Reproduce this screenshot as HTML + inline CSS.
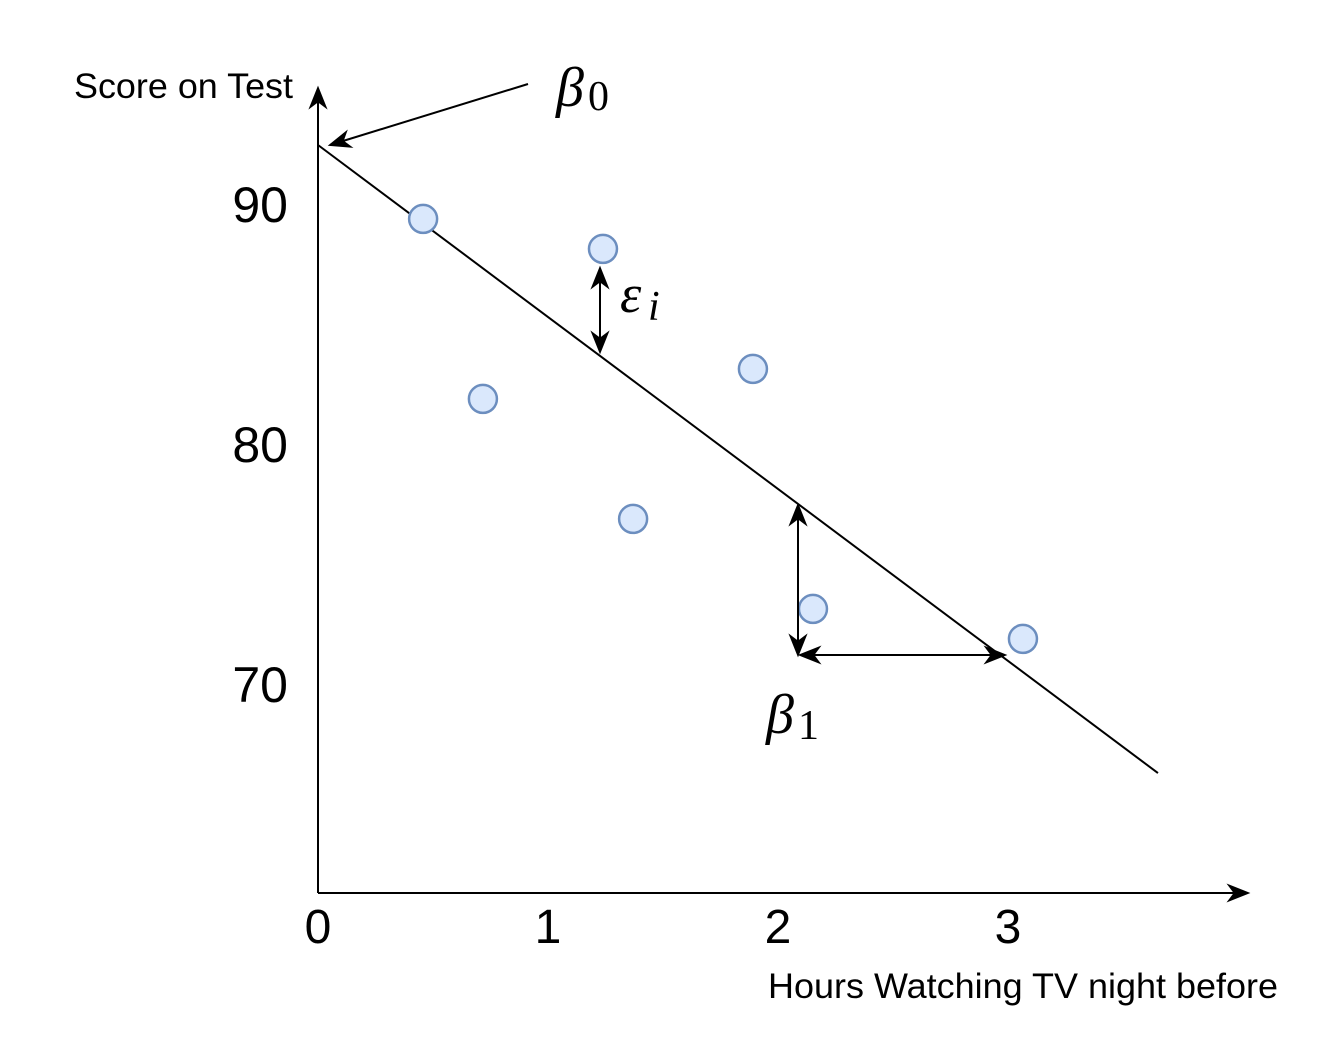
<!DOCTYPE html>
<html><head><meta charset="utf-8"><style>
html,body{margin:0;padding:0;background:#fff;}
svg{display:block;}
.t{font-family:"Liberation Sans",Arial,sans-serif;fill:#000;}
.g{font-family:"Liberation Serif","DejaVu Serif",serif;font-style:italic;fill:#000;}
.s{font-family:"Liberation Serif","DejaVu Serif",serif;fill:#000;}
</style></head><body>
<svg id="chart" width="1338" height="1046" viewBox="0 0 1338 1046">
<defs>
<marker id="ab" viewBox="0 0 10 10" refX="9" refY="5" markerWidth="24" markerHeight="24" markerUnits="userSpaceOnUse" orient="auto-start-reverse">
<path d="M0,1 L10,5 L0,9 L3,5 z" fill="#000"/></marker>
</defs>
<g id="axes"></g>
<g id="marks"></g>
<g id="ann"></g>
</svg>
<script>
const xTicks=[0,1,2,3];
const yTicks=[70,80,90];
const hours=[0.457,0.717,1.239,1.370,1.891,2.152,3.065];
const scores=[89.42,81.92,88.17,76.92,83.17,73.17,71.92];
const lineX=[0,3.652];
const lineY=[92.5,66.33];
const NS='http://www.w3.org/2000/svg';
const X0=318, XS=230, Y90=205, YS=24;
function xs(v){return X0+v*XS;}
function ys(v){return Y90+(90-v)*YS;}
function mk(tag,attrs,parent,text){const e=document.createElementNS(NS,tag);for(const k in attrs)e.setAttribute(k,attrs[k]);if(text!==undefined)e.textContent=text;document.getElementById(parent).appendChild(e);return e;}
let e;
e=mk('line',{x1:X0,y1:893,x2:X0,y2:88,stroke:'#000','stroke-width':2,'marker-end':'url(#ab)'},'axes');


e=mk('line',{x1:X0,y1:893,x2:1248,y2:893,stroke:'#000','stroke-width':2,'marker-end':'url(#ab)'},'axes');


xTicks.forEach(t=>{e=mk('text',{x:xs(t),y:943,'text-anchor':'middle','font-size':48,class:'t'},'axes',String(t));

});
yTicks.forEach(t=>{e=mk('text',{x:288,y:ys(t)+17,'text-anchor':'end','font-size':50,class:'t'},'axes',String(t));

});
e=mk('text',{x:74,y:98,'font-size':35,class:'t',textLength:219,lengthAdjust:'spacingAndGlyphs'},'axes','Score on Test');


e=mk('text',{x:768,y:998,'font-size':35,class:'t',textLength:510,lengthAdjust:'spacingAndGlyphs'},'axes','Hours Watching TV night before');


e=mk('line',{x1:xs(lineX[0]),y1:ys(lineY[0]),x2:xs(lineX[1]),y2:ys(lineY[1]),stroke:'#000','stroke-width':2},'marks');


hours.forEach((h,i)=>{e=mk('circle',{cx:xs(h),cy:ys(scores[i]),r:14,fill:'#dae8fc',stroke:'#6c8ebf','stroke-width':2.5},'marks');

});
e=mk('line',{x1:528,y1:84,x2:330,y2:145,stroke:'#000','stroke-width':2,'marker-end':'url(#ab)'},'ann');


e=mk('line',{x1:600,y1:268,x2:600,y2:352,stroke:'#000','stroke-width':2,'marker-start':'url(#ab)','marker-end':'url(#ab)'},'ann');


e=mk('line',{x1:798,y1:505,x2:798,y2:655,stroke:'#000','stroke-width':2,'marker-start':'url(#ab)','marker-end':'url(#ab)'},'ann');


e=mk('line',{x1:800,y1:655,x2:1005,y2:655,stroke:'#000','stroke-width':2,'marker-start':'url(#ab)','marker-end':'url(#ab)'},'ann');


e=mk('text',{x:556,y:106,'font-size':56,class:'g'},'ann','β');


mk('text',{x:588,y:110,'font-size':42,class:'s'},'ann','0');
e=mk('text',{x:620,y:312,'font-size':54,class:'g'},'ann','ε');


mk('text',{x:648,y:320,'font-size':42,class:'g'},'ann','i');
e=mk('text',{x:766,y:733,'font-size':56,class:'g'},'ann','β');


mk('text',{x:798,y:739,'font-size':42,class:'s'},'ann','1');
</script>
</body></html>
